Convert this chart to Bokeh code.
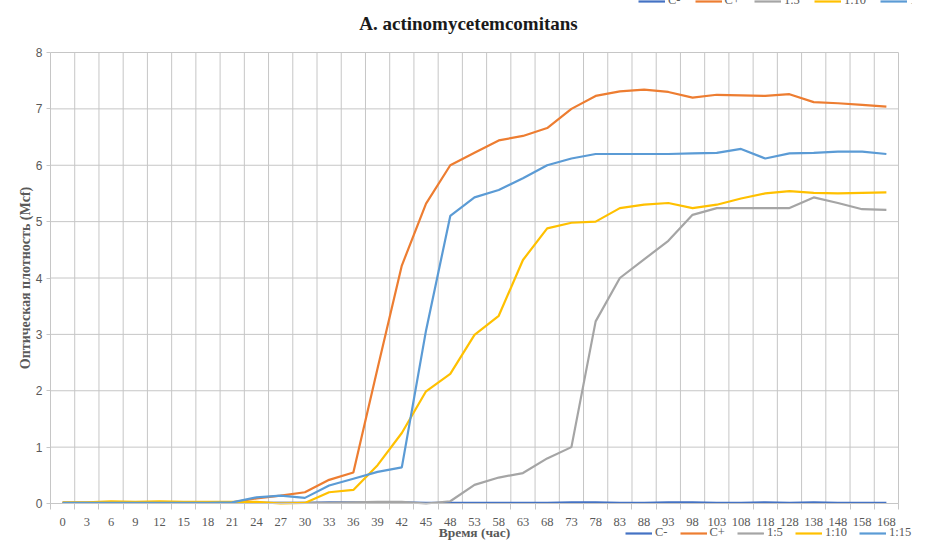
from bokeh.plotting import figure
from bokeh.models import Range1d, FixedTicker, Legend, LegendItem, Label
from bokeh.embed import file_html
from bokeh.resources import INLINE

# ---- data ----
times = ["0", "3", "6", "9", "12", "15", "18", "21", "24", "27", "30", "33", "36", "39",
         "42", "45", "48", "53", "58", "63", "68", "73", "78", "83", "88", "93", "98",
         "103", "108", "118", "128", "138", "148", "158", "168"]

c_minus = [0.01, 0.01, 0.01, 0.01, 0.01, 0.01, 0.01, 0.01, 0.01, 0.01, 0.01, 0.02, 0.02,
           0.02, 0.02, 0.01, 0.01, 0.01, 0.01, 0.01, 0.01, 0.02, 0.02, 0.01, 0.01, 0.02,
           0.02, 0.01, 0.01, 0.02, 0.01, 0.02, 0.01, 0.01, 0.01]
c_plus = [0.01, 0.01, 0.01, 0.01, 0.01, 0.01, 0.01, 0.02, 0.09, 0.14, 0.20, 0.42, 0.55,
          2.40, 4.22, 5.32, 6.00, 6.22, 6.44, 6.52, 6.66, 7.00, 7.23, 7.31, 7.34, 7.30,
          7.20, 7.25, 7.24, 7.23, 7.26, 7.12, 7.10, 7.07, 7.04]
r_1_5 = [0.01, 0.01, 0.01, 0.01, 0.01, 0.01, 0.01, 0.01, 0.01, 0.01, 0.01, 0.01, 0.02,
         0.03, 0.03, 0.00, 0.04, 0.33, 0.46, 0.54, 0.80, 1.00, 3.23, 4.00, 4.33, 4.66,
         5.12, 5.24, 5.24, 5.24, 5.24, 5.43, 5.33, 5.22, 5.21]
r_1_10 = [0.02, 0.02, 0.04, 0.03, 0.04, 0.03, 0.03, 0.03, 0.03, 0.00, 0.01, 0.20, 0.24,
          0.68, 1.25, 1.99, 2.30, 2.99, 3.33, 4.32, 4.88, 4.98, 5.00, 5.24, 5.30, 5.33,
          5.24, 5.30, 5.41, 5.50, 5.54, 5.51, 5.50, 5.51, 5.52]
r_1_15 = [0.01, 0.01, 0.01, 0.01, 0.01, 0.01, 0.01, 0.02, 0.11, 0.14, 0.10, 0.32, 0.44,
          0.56, 0.64, 3.07, 5.10, 5.43, 5.56, 5.77, 6.00, 6.12, 6.20, 6.20, 6.20, 6.20,
          6.21, 6.22, 6.29, 6.12, 6.21, 6.22, 6.24, 6.24, 6.20]

series_names = ["C-", "C+", "1:5", "1:10", "1:15"]
series_values = [c_minus, c_plus, r_1_5, r_1_10, r_1_15]
series_colors = ["#4472C4", "#ED7D31", "#A5A5A5", "#FFC000", "#5B9BD5"]

y_ticks = [0, 1, 2, 3, 4, 5, 6, 7, 8]

title_text = "A. actinomycetemcomitans"
x_title = "Время (час)"
y_title = "Оптическая плотность (Mcf)"

# ---- layout (pixels) ----
W, H = 912, 541
PL, PR, PT, PB = 50, 898, 52, 503      # plot area edges inside the canvas
n = len(times)
y_max = y_ticks[-1]
ppx = (PR - PL) / n
ppy = (PB - PT) / y_max

xs = [i + 0.5 for i in range(n)]
bounds = list(range(n + 1))

GRID = "#c6c6c6"
TXT = "#595959"

p = figure(width=W, height=H, output_backend="svg", toolbar_location=None, title=None,
           x_range=Range1d(-PL / ppx, n + (W - PR) / ppx),
           y_range=Range1d(-(H - PB) / ppy, y_max + PT / ppy),
           min_border_left=0, min_border_right=0, min_border_top=0, min_border_bottom=0)
p.outline_line_color = None
p.background_fill_color = "white"
p.border_fill_color = "white"
p.xgrid.visible = False
p.ygrid.visible = False

# grid lines limited to the plot area
p.segment(x0=bounds, y0=[0] * len(bounds), x1=bounds, y1=[y_max] * len(bounds),
          line_color=GRID, line_width=1)
p.segment(x0=[0] * len(y_ticks), y0=y_ticks, x1=[n] * len(y_ticks), y1=y_ticks,
          line_color=GRID, line_width=1)

renderers = []
for name, vals, col in zip(series_names, series_values, series_colors):
    r = p.line(xs, vals, line_color=col, line_width=2.2)
    renderers.append(r)

# x axis pinned at y = 0: labels at category centres, tick marks at boundaries
xa = p.xaxis[0]
xa.fixed_location = 0
xa.bounds = (0, n)
xa.ticker = FixedTicker(ticks=xs, minor_ticks=bounds)
xa.major_label_overrides = {x: t for x, t in zip(xs, times)}
xa.major_tick_line_color = None
xa.major_tick_out = 0
xa.major_tick_in = 0
xa.minor_tick_line_color = GRID
xa.minor_tick_out = 6
xa.minor_tick_in = 0
xa.axis_line_color = GRID
xa.major_label_standoff = 8
xa.major_label_text_font = "Liberation Serif"
xa.major_label_text_font_size = "12.5px"
xa.major_label_text_color = TXT
xa.axis_label = x_title
xa.axis_label_text_font = "Liberation Serif"
xa.axis_label_text_font_style = "bold"
xa.axis_label_text_font_size = "13.5px"
xa.axis_label_text_color = TXT
xa.axis_label_standoff = -4

# y axis pinned at x = 0
ya = p.yaxis[0]
ya.fixed_location = 0
ya.bounds = (0, y_max)
ya.ticker = FixedTicker(ticks=y_ticks)
ya.minor_tick_line_color = None
ya.major_tick_line_color = GRID
ya.major_tick_out = 4
ya.major_tick_in = 0
ya.axis_line_color = None
ya.major_label_standoff = 4
ya.major_label_text_font = "Liberation Sans"
ya.major_label_text_font_size = "12px"
ya.major_label_text_color = TXT
ya.axis_label = y_title
ya.axis_label_text_font = "Liberation Serif"
ya.axis_label_text_font_style = "bold"
ya.axis_label_text_font_size = "14px"
ya.axis_label_text_color = TXT
ya.axis_label_standoff = 0

# chart title
p.add_layout(Label(x=468, y=H - 23, x_units="screen", y_units="screen",
                   text=title_text, text_align="center", text_baseline="middle",
                   text_font="Liberation Serif", text_font_style="bold",
                   text_font_size="19px", text_color="#1a1a1a"))


def make_legend(loc, spacing):
    items = [LegendItem(label=nm, renderers=[r]) for nm, r in zip(series_names, renderers)]
    return Legend(items=items, location=loc, orientation="horizontal",
                  background_fill_alpha=0, border_line_color=None, padding=0, margin=0,
                  spacing=spacing, glyph_width=27, glyph_height=14, label_height=14,
                  label_width=0, label_standoff=3, label_text_font="Liberation Serif",
                  label_text_font_size="12.5px", label_text_color=TXT)


p.add_layout(make_legend((625, 1), 12), "center")
p.add_layout(make_legend((638, H - 8), 14), "center")

open("out.html", "w").write(file_html(p, INLINE))
